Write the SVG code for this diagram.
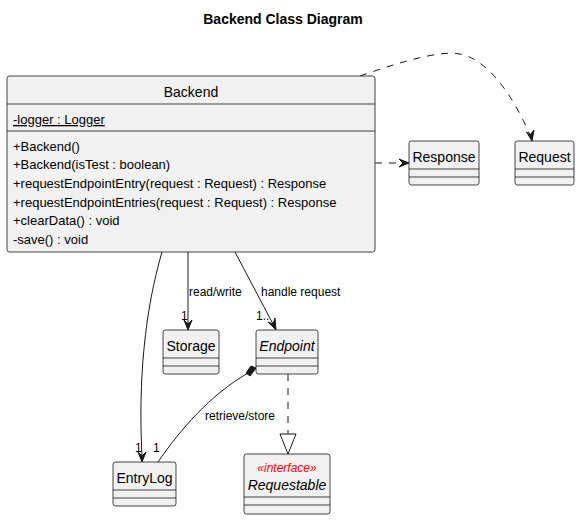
<svg xmlns="http://www.w3.org/2000/svg" width="580" height="520" viewBox="0 0 580 520">
<style>
.box{fill:#F1F1F1;stroke:#181818;stroke-width:0.8}
.div{stroke:#181818;stroke-width:0.8}
.t{font-family:"Liberation Sans",Arial,sans-serif;font-size:14px;fill:#000}
.m{font-family:"Liberation Sans",Arial,sans-serif;font-size:13px;fill:#000}
.lbl{font-family:"Liberation Sans",Arial,sans-serif;font-size:12px;fill:#000}
.ln{fill:none;stroke:#181818;stroke-width:1}
.dash{stroke-dasharray:7,7}
.ah{fill:#181818;stroke:#181818;stroke-width:1}
</style>
<rect width="580" height="520" fill="#FFFFFF"/>
<text x="283" y="24" text-anchor="middle" font-family="Liberation Sans,Arial,sans-serif" font-size="14" font-weight="bold">Backend Class Diagram</text>

<g id="connectors">
  <!-- Backend -> Response -->
  <path class="ln dash" d="M375,163 L403,163"/>
  <polygon class="ah" points="409,163 399,159 403,163 399,167"/>
  <!-- Backend -> Request -->
  <path class="ln dash" d="M360,76 C400,62 440,50 460,54 C490,60 515,100 530,135"/>
  <polygon class="ah" points="532,141 526.5,132 530,135 534,130"/>
  <!-- read/write -->
  <path class="ln" d="M188,252 L188,324"/>
  <polygon class="ah" points="188,330 184,320 188,324 192,320"/>
  <text class="lbl" x="189" y="296">read/write</text>
  <text class="lbl" x="181" y="320">1</text>
  <!-- handle request -->
  <path class="ln" d="M235,252 L273,324"/>
  <polygon class="ah" points="276,330 268,322 273,324 275,318"/>
  <text class="lbl" x="261" y="296">handle request</text>
  <text class="lbl" x="256" y="320">1..</text>
  <!-- Backend -> EntryLog -->
  <path class="ln" d="M162,252 C145,310 138,380 142,456"/>
  <polygon class="ah" points="142,462 138,452 142,456 146,452"/>
  <text class="lbl" x="135" y="452">1</text>
  <!-- EntryLog - Endpoint composition -->
  <path class="ln" d="M158,462 C180,430 210,395 248,373"/>
  <polygon class="ah" points="256,368 251,366 246,373 250,376"/>
  <text class="lbl" x="153" y="452">1</text>
  <text class="lbl" x="205" y="420">retrieve/store</text>
  <!-- Endpoint -> Requestable realization -->
  <path class="ln dash" d="M288,374 L288,434"/>
  <polygon points="288,454 280,434 296,434" fill="#FFFFFF" stroke="#181818" stroke-width="1"/>
</g>

<g id="Backend">
  <rect class="box" x="7" y="76" width="368" height="176" rx="2.5"/>
  <line class="div" x1="7" y1="104" x2="375" y2="104"/>
  <line class="div" x1="7" y1="131" x2="375" y2="131"/>
  <text class="t" x="191" y="97" text-anchor="middle">Backend</text>
  <text class="m" x="13" y="124" text-decoration="underline">-logger : Logger</text>
  <text class="m" x="13" y="151">+Backend()</text>
  <text class="m" x="13" y="169">+Backend(isTest : boolean)</text>
  <text class="m" x="13" y="188">+requestEndpointEntry(request : Request) : Response</text>
  <text class="m" x="13" y="207">+requestEndpointEntries(request : Request) : Response</text>
  <text class="m" x="13" y="225">+clearData() : void</text>
  <text class="m" x="13" y="244">-save() : void</text>
</g>

<g id="Response">
  <rect class="box" x="409" y="141" width="70" height="44" rx="2.5"/>
  <line class="div" x1="409" y1="169" x2="479" y2="169"/>
  <line class="div" x1="409" y1="177" x2="479" y2="177"/>
  <text class="t" x="444" y="162" text-anchor="middle">Response</text>
</g>

<g id="Request">
  <rect class="box" x="515" y="141" width="59" height="44" rx="2.5"/>
  <line class="div" x1="515" y1="169" x2="574" y2="169"/>
  <line class="div" x1="515" y1="177" x2="574" y2="177"/>
  <text class="t" x="544.5" y="162" text-anchor="middle">Request</text>
</g>

<g id="Storage">
  <rect class="box" x="163" y="330" width="56" height="44" rx="2.5"/>
  <line class="div" x1="163" y1="358" x2="219" y2="358"/>
  <line class="div" x1="163" y1="366" x2="219" y2="366"/>
  <text class="t" x="191" y="351" text-anchor="middle">Storage</text>
</g>

<g id="Endpoint">
  <rect class="box" x="256" y="330" width="62" height="44" rx="2.5"/>
  <line class="div" x1="256" y1="358" x2="318" y2="358"/>
  <line class="div" x1="256" y1="366" x2="318" y2="366"/>
  <text class="t" x="287" y="351" text-anchor="middle" font-style="italic">Endpoint</text>
</g>

<g id="EntryLog">
  <rect class="box" x="113" y="462" width="63" height="44" rx="2.5"/>
  <line class="div" x1="113" y1="490" x2="176" y2="490"/>
  <line class="div" x1="113" y1="498" x2="176" y2="498"/>
  <text class="t" x="144.5" y="483" text-anchor="middle">EntryLog</text>
</g>

<g id="Requestable">
  <rect class="box" x="244" y="454" width="86" height="60" rx="2.5"/>
  <line class="div" x1="244" y1="497" x2="330" y2="497"/>
  <line class="div" x1="244" y1="505" x2="330" y2="505"/>
  <text x="287" y="472" text-anchor="middle" font-family="Liberation Sans,Arial,sans-serif" font-size="12" font-style="italic" fill="#FF0000">«interface»</text>
  <text class="t" x="287" y="490" text-anchor="middle" font-style="italic">Requestable</text>
</g>
</svg>
